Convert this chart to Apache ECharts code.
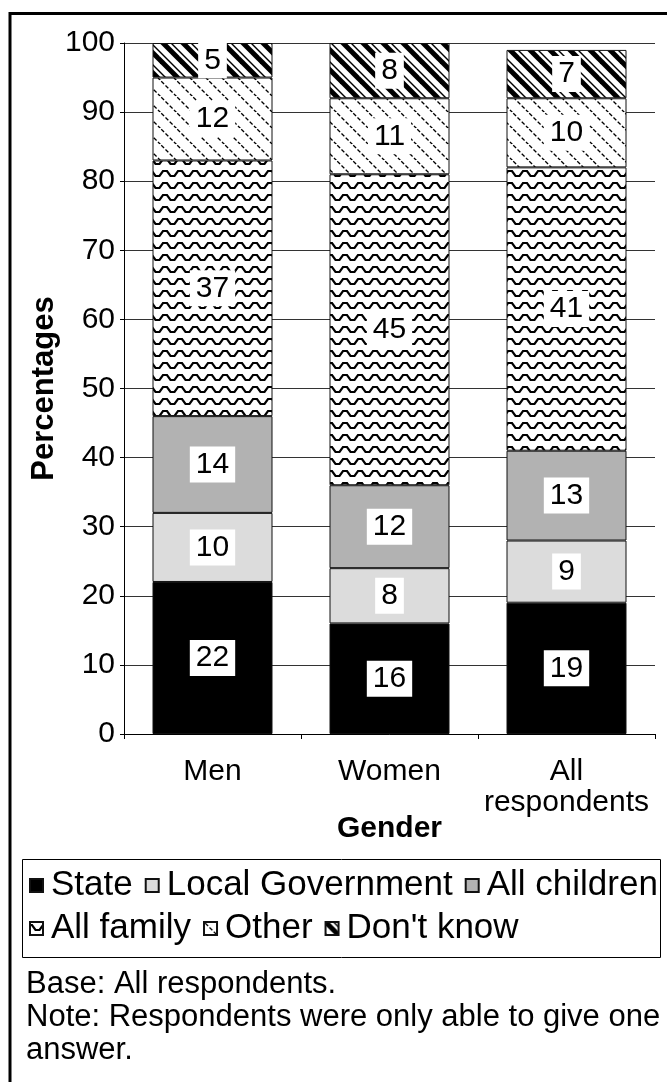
<!DOCTYPE html>
<html>
<head>
<meta charset="utf-8">
<script src="https://cdn.jsdelivr.net/npm/echarts@6/dist/echarts.min.js"></script>
<style>
  html, body { margin: 0; padding: 0; background: #fff; }
  #chart { width: 667px; height: 1082px; }
</style>
</head>
<body>
<div id="chart"></div>
<script>
// Who should pay for long-term care, by gender (percentages)
const categories = ['Men', 'Women', 'All\nrespondents'];
const seriesNames = ['State', 'Local Government', 'All children', 'All family', 'Other', "Don't know"];
const state = [22, 16, 19];
const localGovernment = [10, 8, 9];
const allChildren = [14, 12, 13];
const allFamily = [37, 45, 41];
const other = [12, 11, 10];
const dontKnow = [5, 8, 7];

const FONT = '"Liberation Sans", Arial, Helvetica, sans-serif';

// Repeating fill tiles for the hatched segments
function tile(w, h, draw) {
  const c = document.createElement('canvas');
  c.width = w; c.height = h;
  const ctx = c.getContext('2d');
  ctx.fillStyle = '#fff';
  ctx.fillRect(0, 0, w, h);
  ctx.strokeStyle = '#000';
  draw(ctx, w, h);
  return { image: c, repeat: 'repeat' };
}

function diag(ctx, w, h, off) {
  ctx.beginPath();
  ctx.moveTo(off - 3, -3);
  ctx.lineTo(off + w + 3, h + 3);
  ctx.stroke();
}

const zigzagFill = tile(15, 12, (ctx) => {
  ctx.lineWidth = 2.2;
  ctx.beginPath();
  ctx.moveTo(-1, 3);
  ctx.lineTo(2, 3);
  ctx.lineTo(5.5, 8);
  ctx.lineTo(9.5, 8);
  ctx.lineTo(13, 3);
  ctx.lineTo(16, 3);
  ctx.stroke();
});

const thinHatchFill = tile(16, 16, (ctx, w, h) => {
  ctx.lineWidth = 1.3;
  ctx.setLineDash([4, 2]);
  [-w, 0, w].forEach(o => diag(ctx, w, h, o));
});

const thickHatchFill = tile(20, 20, (ctx, w, h) => {
  ctx.lineWidth = 5;
  [-w, 0, w].forEach(o => diag(ctx, w, h, o));
  ctx.lineWidth = 1.4;
  [-w, 0, w].forEach(o => diag(ctx, w, h, o + 8));
});

const fills = ['#000000', '#dcdcdc', '#b2b2b2', zigzagFill, thinHatchFill, thickHatchFill];
const values = [state, localGovernment, allChildren, allFamily, other, dontKnow];

const series = seriesNames.map((name, i) => ({
  name: name,
  type: 'bar',
  stack: 'total',
  barWidth: 120,
  data: values[i],
  itemStyle: { color: fills[i], borderColor: '#111', borderWidth: 1 },
  label: {
    show: true,
    position: 'inside',
    fontFamily: FONT,
    fontSize: 30,
    lineHeight: 30,
    color: '#000',
    backgroundColor: '#fff',
    padding: [3, 6]
  }
}));

const legendCommon = {
  icon: 'rect',
  itemWidth: 13,
  itemHeight: 13,
  itemGap: 12,
  padding: 0,
  textStyle: { fontFamily: FONT, fontSize: 35, color: '#000', padding: [0, 0, 0, 3] }
};

const option = {
  animation: false,
  textStyle: { fontFamily: FONT },
  grid: { left: 124, right: 12, top: 43, bottom: 348 },
  xAxis: {
    type: 'category',
    data: categories,
    axisLine: { lineStyle: { color: '#000', width: 1 } },
    axisTick: { show: true, length: 5, lineStyle: { color: '#000' } },
    axisLabel: { interval: 0, fontFamily: FONT, fontSize: 30, color: '#000', margin: 22, lineHeight: 31 },
    name: 'Gender',
    nameLocation: 'middle',
    nameGap: 80,
    nameMoveOverlap: false,
    nameTextStyle: { fontFamily: FONT, fontSize: 30, fontWeight: 'bold', color: '#000' }
  },
  yAxis: {
    type: 'value',
    min: 0,
    max: 100,
    interval: 10,
    axisLine: { show: true, lineStyle: { color: '#000', width: 1 } },
    axisTick: { show: true, length: 4, lineStyle: { color: '#000' } },
    axisLabel: { fontFamily: FONT, fontSize: 30, color: '#000', margin: 9 },
    splitLine: { show: true, lineStyle: { color: '#333', width: 1 } },
    name: 'Percentages',
    nameLocation: 'middle',
    nameGap: 64,
    nameMoveOverlap: false,
    nameRotate: 90,
    nameTextStyle: { fontFamily: FONT, fontSize: 31, fontWeight: 'bold', color: '#000' }
  },
  legend: [
    Object.assign({ data: seriesNames.slice(0, 3), left: 29, top: 868 }, legendCommon),
    Object.assign({ data: seriesNames.slice(3), left: 29, top: 911 }, legendCommon)
  ],
  graphic: [
    {
      type: 'rect', silent: true,
      shape: { x: 10, y: 13.5, width: 700, height: 1100 },
      style: { fill: 'none', stroke: '#000', lineWidth: 3 }
    },
    {
      type: 'rect', silent: true,
      shape: { x: 22.5, y: 859.5, width: 638, height: 98 },
      style: { fill: 'none', stroke: '#000', lineWidth: 1 }
    },
    {
      type: 'text', silent: true, left: 26, top: 968,
      style: {
        text: 'Base: All respondents.\nNote: Respondents were only able to give one\nanswer.',
        fontFamily: FONT, fontSize: 31, lineHeight: 33, fill: '#000'
      }
    }
  ],
  series: series
};

const chart = echarts.init(document.getElementById('chart'), null, { renderer: 'canvas' });
chart.setOption(option);
</script>
</body>
</html>
